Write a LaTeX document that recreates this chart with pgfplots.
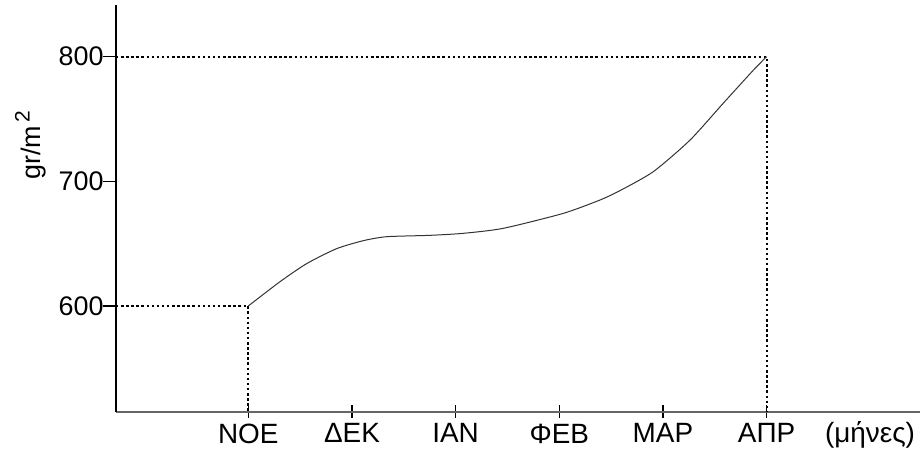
\documentclass[border=0pt]{standalone}
\usepackage{fontspec}
\setmainfont{Liberation Sans}
\usepackage{pgfplots}
\pgfplotsset{compat=1.18}
\begin{document}
\fontsize{25}{30}\selectfont
\begin{tikzpicture}
\path[use as bounding box] (-116bp,-38.3bp) rectangle (804bp,411.7bp);
\begin{axis}[
  at={(0,0)}, anchor=south west,
  scale only axis, width=804bp, height=406.7bp,
  xmin=-1.276, xmax=6.48, ymin=515.2, ymax=841.5,
  axis x line=bottom, axis y line=left,
  x axis line style={-, line width=2bp, black!60},
  y axis line style={-, line width=1.4bp, black},
  xtick={0,1,2,3,4,5},
  xticklabels={ΝΟΕ,ΔΕΚ,ΙΑΝ,ΦΕΒ,ΜΑΡ,ΑΠΡ},
  ytick={600,700,800},
  yticklabels={600,700,800},
  major tick length=13bp,
  xtick align=center, ytick align=outside,
  tick style={line width=1.2bp, black},
  xticklabel style={font=\fontsize{28}{30}\selectfont, yshift=3bp},
  yticklabel style={font=\fontsize{27}{30}\selectfont, xshift=9bp},
  xlabel={(μήνες)},
  xlabel style={at={(axis description cs:0.9378,0)}, anchor=base, yshift=-30.8bp, font=\fontsize{28}{30}\selectfont},
  ylabel={gr/m\raisebox{0.42em}{\fontsize{21}{21}\selectfont\,2}},
  ylabel style={at={(axis description cs:-0.106,0.655)}, anchor=center, font=\fontsize{27}{30}\selectfont},
]
\addplot[line width=2bp, dash pattern=on 2.5bp off 2.6bp, black] coordinates {(-1.276,600) (0,600) (0,515.2)};
\addplot[line width=2bp, dash pattern=on 2.5bp off 2.6bp, black] coordinates {(-1.276,800) (5,800) (5,515.2)};
\addplot[line width=1bp, black!80, smooth, tension=0.4] coordinates {
(0,600) (0.306,619.5) (0.563,634) (0.852,646) (1.109,652.4) (1.335,655.6)
(1.752,656.7) (2.073,658.3) (2.459,662.3) (3.038,674.3) (3.392,685)
(3.584,692.5) (3.906,707.7) (4.260,733) (4.580,762.5) (4.870,789) (5.0,800)};
\end{axis}
\end{tikzpicture}
\end{document}
